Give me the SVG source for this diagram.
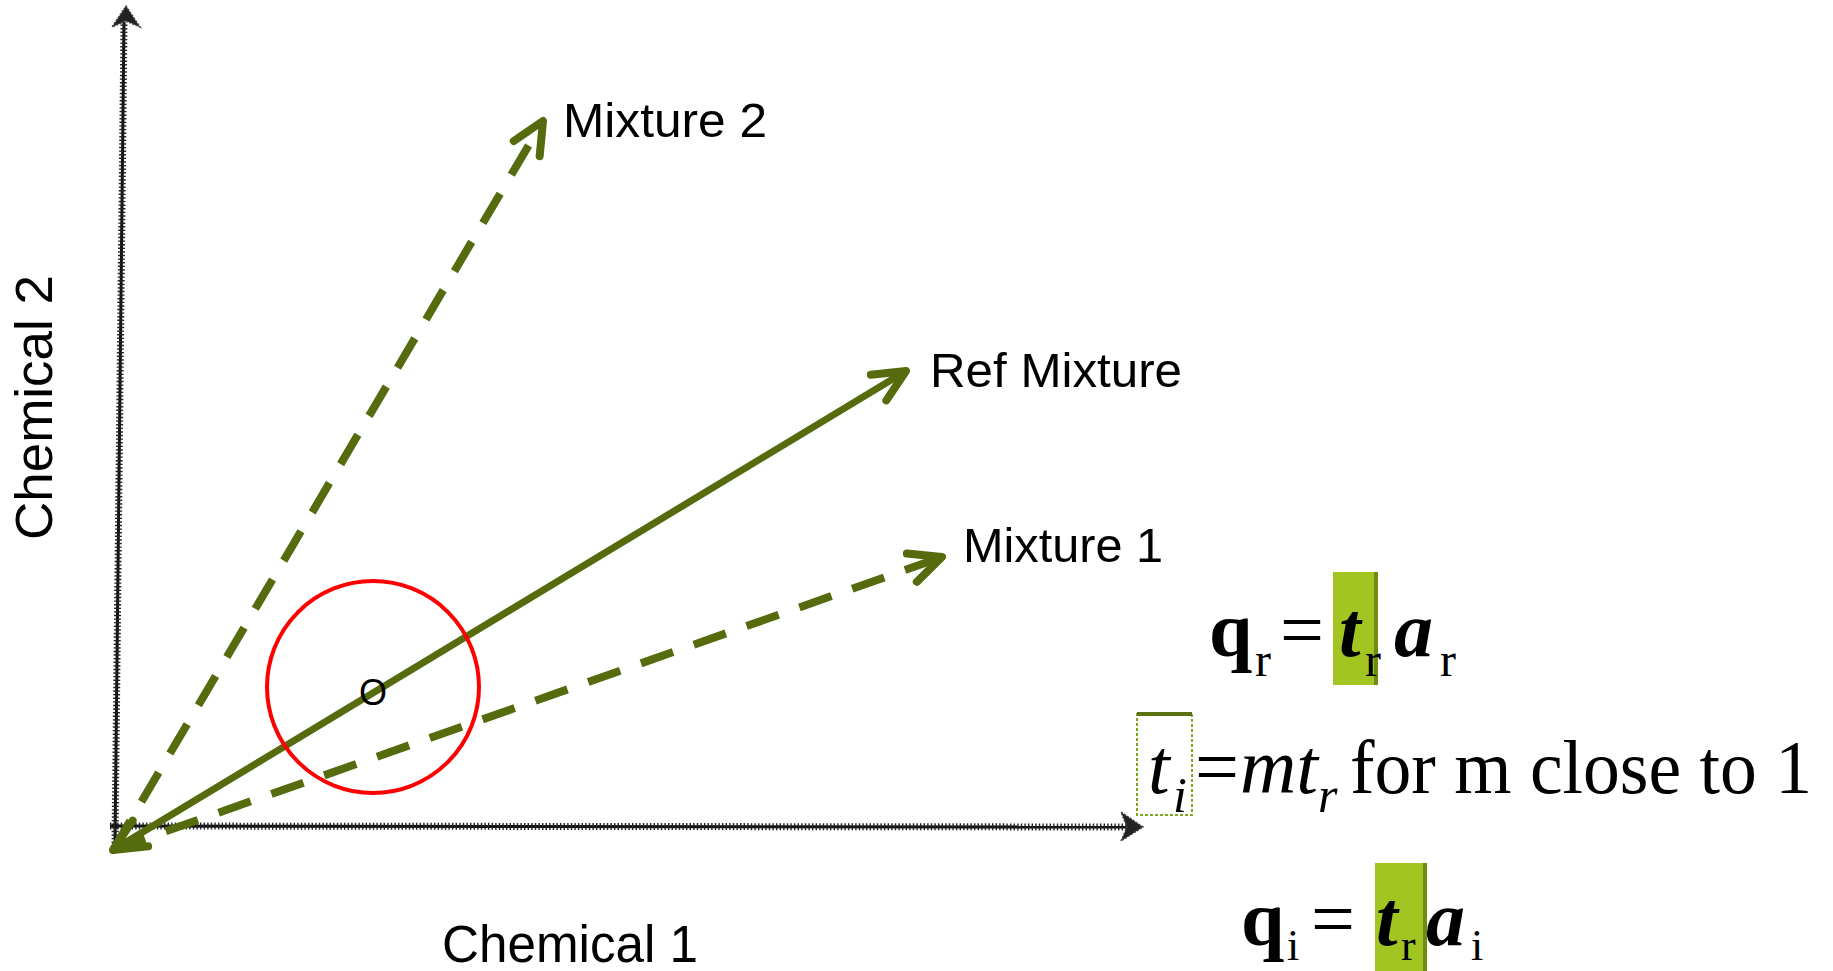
<svg xmlns="http://www.w3.org/2000/svg" width="1833" height="971" viewBox="0 0 1833 971">
  <style>
    .axis { stroke: #111; stroke-width: 3; fill: none; }
    .axtick { stroke: #222; stroke-width: 7; stroke-dasharray: 1.4 2.2; fill: none; }
    .axhead { fill: #222; stroke: #444; stroke-width: 1.5; stroke-dasharray: 2 1.5; }
    .vec { stroke: #566a0e; fill: none; }
    .solid { stroke-width: 7; }
    .dash { stroke-width: 8; stroke-dasharray: 34 22; }
    .lbl { font-family: "Liberation Sans", Arial, sans-serif; fill: #000; }
    .eq { font-family: "Liberation Serif", "Times New Roman", serif; fill: #000; }
    .b { font-weight: bold; }
    .i { font-style: italic; }
    .hl { fill: #a3c521; }
    .hlshade { fill: #6f8c12; }
  </style>
  <defs>
    <marker id="chev" markerUnits="userSpaceOnUse" orient="auto-start-reverse" refX="0" refY="0" markerWidth="80" markerHeight="80" viewBox="-40 -40 80 80" overflow="visible">
      <path d="M -32 -15 L 0 0 L -32 15" fill="none" stroke="#566a0e" stroke-width="8" stroke-linecap="round" stroke-linejoin="round" stroke-dasharray="none"/>
    </marker>
  </defs>

  <rect width="1833" height="971" fill="#ffffff"/>

  <g id="axes">
    <line class="axis" x1="115" y1="843" x2="124" y2="22"/>
    <line class="axtick" x1="115" y1="843" x2="124" y2="22"/>
    <polygon class="axhead" points="126,6 140,27 126,21 112,27"/>
    <line class="axis" x1="110" y1="826" x2="1132" y2="827"/>
    <line class="axtick" x1="110" y1="826" x2="1132" y2="827"/>
    <polygon class="axhead" points="1143,827 1121,812 1127,827 1121,841"/>
  </g>

  <g id="connectors">
    <line id="mix2" class="vec dash" x1="113" y1="850" x2="543" y2="121" marker-end="url(#chev)"/>
    <line id="mix1" class="vec dash" x1="113" y1="850" x2="942" y2="557" marker-end="url(#chev)"/>
    <line id="ref" class="vec solid" x1="113" y1="850" x2="906" y2="371" marker-start="url(#chev)" marker-end="url(#chev)"/>
  </g>

  <g id="circle-o">
    <circle cx="373" cy="687" r="106" fill="none" stroke="#ff0000" stroke-width="4"/>
    <text class="lbl" x="373" y="705" font-size="36" text-anchor="middle">O</text>
  </g>

  <g id="label-mixture2">
    <text class="lbl" x="563" y="137" font-size="48" textLength="204" lengthAdjust="spacingAndGlyphs">Mixture 2</text>
  </g>
  <g id="label-ref">
    <text class="lbl" x="930" y="387" font-size="48" textLength="252" lengthAdjust="spacingAndGlyphs">Ref Mixture</text>
  </g>
  <g id="label-mixture1">
    <text class="lbl" x="963" y="562" font-size="48" textLength="200" lengthAdjust="spacingAndGlyphs">Mixture 1</text>
  </g>
  <g id="label-chem1">
    <text class="lbl" x="442" y="962" font-size="51" textLength="256" lengthAdjust="spacingAndGlyphs">Chemical 1</text>
  </g>
  <g id="label-chem2">
    <text class="lbl" transform="translate(52,540) rotate(-90)" x="0" y="0" font-size="51" textLength="265" lengthAdjust="spacingAndGlyphs">Chemical 2</text>
  </g>

  <g id="eq-qr">
    <rect class="hl" x="1333" y="572" width="45" height="113"/>
    <rect class="hlshade" x="1374" y="572" width="4" height="113"/>
    <text class="eq b" x="1209" y="656" font-size="78">q</text>
    <text class="eq" x="1255" y="676" font-size="48">r</text>
    <text class="eq" x="1280" y="656" font-size="78">=</text>
    <text class="eq b i" x="1339" y="656" font-size="78">t</text>
    <text class="eq" x="1365" y="676" font-size="48">r</text>
    <text class="eq b i" x="1394" y="656" font-size="78">a</text>
    <text class="eq" x="1440" y="676" font-size="48">r</text>
  </g>

  <g id="eq-ti">
    <rect x="1137" y="714" width="55" height="101" fill="none" stroke="#7ea820" stroke-width="2" stroke-dasharray="3 2"/>
    <line x1="1137" y1="714" x2="1192" y2="714" stroke="#5b7212" stroke-width="4"/>
    <text class="eq i" x="1148" y="793" font-size="78">t</text>
    <text class="eq i" x="1173" y="812" font-size="50">i</text>
    <text class="eq" x="1195" y="793" font-size="78">=</text>
    <text class="eq i" x="1240" y="793" font-size="78">mt</text>
    <text class="eq i" x="1318" y="812" font-size="50">r</text>
    <text class="eq" x="1350" y="793" font-size="76" textLength="462" lengthAdjust="spacingAndGlyphs">for m close to 1</text>
  </g>

  <g id="eq-qi">
    <rect class="hl" x="1375" y="863" width="52" height="110"/>
    <rect class="hlshade" x="1423" y="863" width="4" height="110"/>
    <text class="eq b" x="1241" y="945" font-size="78">q</text>
    <text class="eq" x="1287" y="960" font-size="44">i</text>
    <text class="eq" x="1311" y="945" font-size="78">=</text>
    <text class="eq b i" x="1376" y="945" font-size="78">t</text>
    <text class="eq" x="1401" y="960" font-size="44">r</text>
    <text class="eq b i" x="1426" y="945" font-size="78">a</text>
    <text class="eq" x="1471" y="960" font-size="44">i</text>
  </g>
</svg>
